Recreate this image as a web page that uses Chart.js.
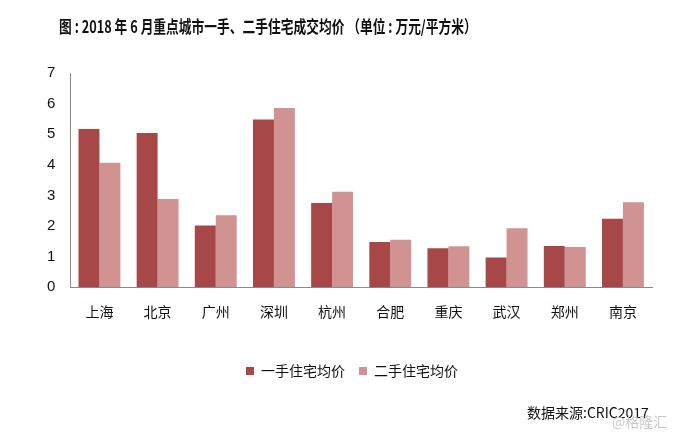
<!DOCTYPE html>
<html>
<head>
<meta charset="utf-8">
<script src="https://cdn.jsdelivr.net/npm/chart.js@4.4.0/dist/chart.umd.min.js"></script>
<style>
    body { margin: 0; background: #fff; font-family: "Noto Sans CJK SC", "Liberation Sans", sans-serif; }
    #wrap { position: relative; width: 673px; height: 433px; }
    #title { position: absolute; left: 59px; top: 13px; font-size: 17px; font-weight: bold; color: #111; white-space: nowrap; transform-origin: left center; }
    #source { position: absolute; left: 527px; top: 402px; font-size: 14px; color: #111; white-space: nowrap; }
    #mark { position: absolute; left: 612px; top: 411px; font-size: 14px; color: #c8c8c8; white-space: nowrap; }
</style>
</head>
<body>
<div id="wrap">
    <canvas id="priceChart"></canvas>
    <div id="title">图 : 2018 年 6 月重点城市一手、二手住宅成交均价 （单位 : 万元/平方米）</div>
    <div id="source">数据来源:CRIC2017</div>
    <div id="mark">@格隆汇</div>
</div>
<script>
const cities = ["上海", "北京", "广州", "深圳", "杭州", "合肥", "重庆", "武汉", "郑州", "南京"];
const newHomePrice = [5.17, 5.04, 2.02, 5.48, 2.75, 1.48, 1.27, 0.97, 1.35, 2.24];
const resalePrice = [4.07, 2.88, 2.35, 5.86, 3.12, 1.55, 1.34, 1.93, 1.31, 2.78];
const seriesNames = ["一手住宅均价", "二手住宅均价"];
const yMin = 0;
const yMax = 7;

const axisColor = '#8a8a8a';
const labelFont = { family: '"Noto Sans CJK SC", "Liberation Sans", sans-serif', size: 14 };

// the title in the picture is set in a narrow face, squeeze ours to the same width
const title = document.getElementById('title');
title.style.transform = 'scaleX(' + (418 / title.offsetWidth) + ')';

// legend sits a little right of centre in the original
const nudgeLegend = {
    id: 'nudgeLegend',
    afterLayout(chart) {
        chart.legend.left += 10;
        chart.legend.right += 10;
    }
};

const ctx = document.getElementById('priceChart').getContext('2d');
new Chart(ctx, {
    type: 'bar',
    data: {
        labels: cities,
        datasets: [{
            label: seriesNames[0],
            data: newHomePrice,
            backgroundColor: '#a84747'
        }, {
            label: seriesNames[1],
            data: resalePrice,
            backgroundColor: '#d09392'
        }]
    },
    options: {
        responsive: true,
        maintainAspectRatio: false,
        animation: false,
        categoryPercentage: 0.72,
        barPercentage: 1,
        layout: {
            padding: { left: 32, right: 21, top: 73, bottom: 45 }
        },
        plugins: {
            tooltip: { enabled: false },
            legend: {
                position: 'bottom',
                labels: {
                    boxWidth: 8,
                    boxHeight: 8,
                    padding: 14,
                    color: '#111',
                    font: labelFont
                }
            }
        },
        scales: {
            x: {
                grid: { display: false, drawTicks: false },
                border: { display: true, color: axisColor, width: 1 },
                ticks: { color: '#111', font: labelFont, padding: 16 },
                afterFit: scale => { scale.height += 14; }
            },
            y: {
                min: yMin,
                max: yMax,
                grid: { display: false, drawTicks: false },
                border: { display: true, color: axisColor, width: 1 },
                ticks: {
                    stepSize: 1,
                    color: '#111',
                    padding: 15,
                    font: { family: '"Liberation Sans", Arial, sans-serif', size: 15 }
                }
            }
        }
    },
    plugins: [nudgeLegend]
});
</script>
</body>
</html>
